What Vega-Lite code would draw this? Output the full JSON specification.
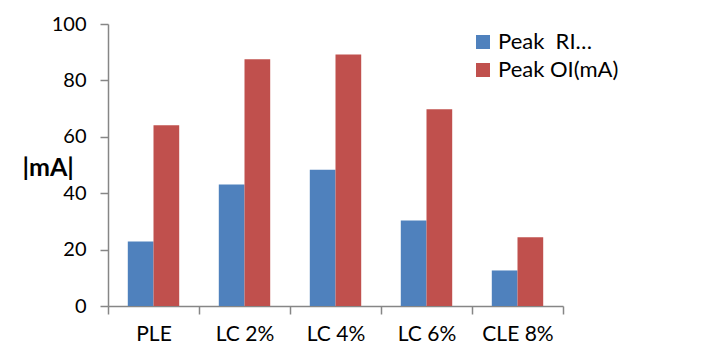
{
  "$schema": "https://vega.github.io/schema/vega-lite/v6.json",
  "autosize": "none",
  "width": 455,
  "height": 282,
  "padding": {"left": 108, "top": 24, "right": 139, "bottom": 47},
  "background": "white",
  "data": {
    "values": [
      {"sample": "PLE", "series": "\u00a0Peak\u00a0\u00a0RI…", "value": 22.9},
      {"sample": "PLE", "series": "Peak OI(mA)", "value": 64.1},
      {"sample": "LC 2%", "series": "\u00a0Peak\u00a0\u00a0RI…", "value": 43.1},
      {"sample": "LC 2%", "series": "Peak OI(mA)", "value": 87.5},
      {"sample": "LC 4%", "series": "\u00a0Peak\u00a0\u00a0RI…", "value": 48.3},
      {"sample": "LC 4%", "series": "Peak OI(mA)", "value": 89.2},
      {"sample": "LC 6%", "series": "\u00a0Peak\u00a0\u00a0RI…", "value": 30.3},
      {"sample": "LC 6%", "series": "Peak OI(mA)", "value": 69.8},
      {"sample": "CLE 8%", "series": "\u00a0Peak\u00a0\u00a0RI…", "value": 12.6},
      {"sample": "CLE 8%", "series": "Peak OI(mA)", "value": 24.4}
    ]
  },
  "mark": {"type": "bar"},
  "encoding": {
    "x": {
      "field": "sample",
      "type": "nominal",
      "sort": ["PLE", "LC 2%", "LC 4%", "LC 6%", "CLE 8%"],
      "scale": {"paddingInner": 0, "paddingOuter": 0},
      "axis": {
        "title": null,
        "labelAngle": 0,
        "tickBand": "extent",
        "tickSize": 8,
        "labelPadding": 9,
        "labelFontSize": 21
      }
    },
    "xOffset": {
      "field": "series",
      "type": "nominal",
      "sort": ["\u00a0Peak\u00a0\u00a0RI…", "Peak OI(mA)"],
      "scale": {"paddingInner": 0, "paddingOuter": 0.77}
    },
    "y": {
      "field": "value",
      "type": "quantitative",
      "scale": {"domain": [0, 100], "nice": false},
      "axis": {
        "title": "|mA|",
        "values": [0, 20, 40, 60, 80, 100],
        "grid": false,
        "tickSize": 8,
        "labelPadding": 14,
        "labelFontSize": 20,
        "titleAngle": 0,
        "titleAlign": "left",
        "titleBaseline": "middle",
        "titleX": -86,
        "titleY": 143,
        "titleFontWeight": "bold",
        "titleFontSize": 25
      }
    },
    "color": {
      "field": "series",
      "type": "nominal",
      "sort": ["\u00a0Peak\u00a0\u00a0RI…", "Peak OI(mA)"],
      "scale": {"range": ["#4F81BD", "#C0504D"]},
      "legend": {
        "title": null,
        "orient": "none",
        "legendX": 364,
        "legendY": 7,
        "symbolType": "square",
        "symbolSize": 196,
        "symbolStrokeWidth": 0,
        "labelFontSize": 22,
        "labelOffset": 4,
        "rowPadding": 6,
        "padding": 0,
        "labelLimit": 300
      }
    }
  },
  "config": {
    "font": "Lato",
    "view": {"stroke": null},
    "axis": {
      "labelFont": "Lato",
      "titleFont": "Lato",
      "labelColor": "#000000",
      "titleColor": "#000000",
      "domainColor": "#868686",
      "tickColor": "#868686",
      "domainWidth": 1.5,
      "tickWidth": 1.5
    },
    "legend": {"labelFont": "Lato", "labelColor": "#000000"}
  }
}
